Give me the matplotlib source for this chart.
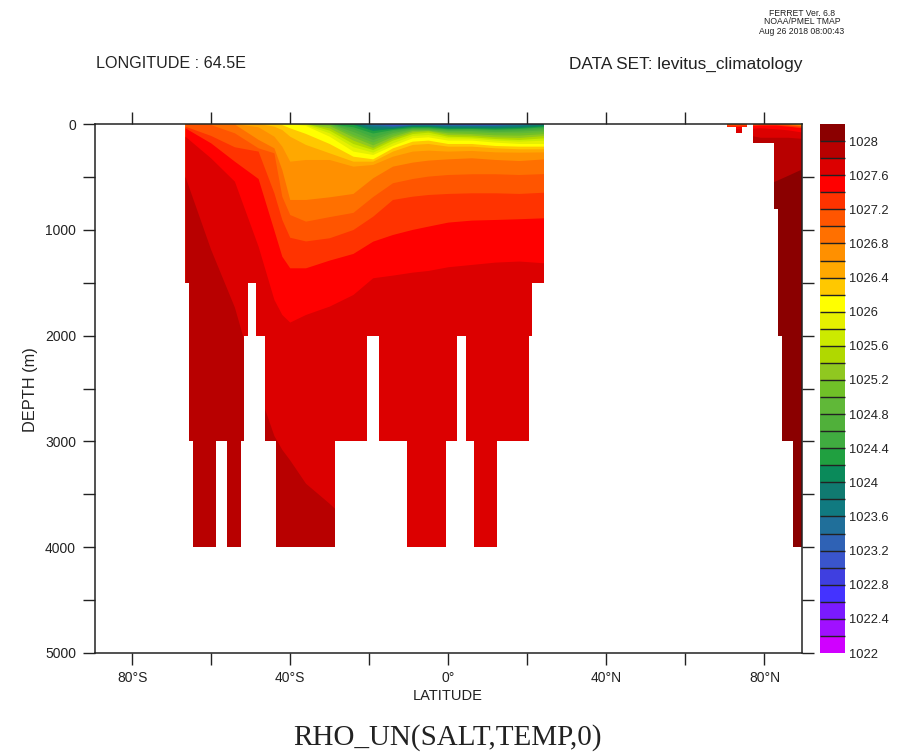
import matplotlib
matplotlib.use("Agg")
import matplotlib.pyplot as plt
from matplotlib.path import Path
from matplotlib.colors import ListedColormap, BoundaryNorm
from matplotlib.cm import ScalarMappable

W, H = 901, 756

# Latitudes of the isopycnal depth readings
lats = [-66.5, -60, -54, -48, -44, -42, -40, -36, -30, -24, -19, -14, -9, -5, 0, 6, 12, 18, 24.5,
        70, 75, 79, 83, 86, 89.5]

# Depth (m) at which density reaches each contour level
d280 = [5000] * 19 + [600, 600, 600, 540, 490, 430]
d278 = [500, 1190, 1735, 2520, 2950, 3080, 3180, 3400, 3590, 3800] + [5000] * 9 + [150, 100, 130, 130, 130, 140]
d276 = [120, 325, 545, 1160, 1663, 1805, 1877, 1805, 1726, 1616, 1458, 1433, 1405, 1389, 1354, 1332, 1310, 1300, 1317, 50, 50, 40, 50, 60, 80]
d274 = [41, 183, 356, 520, 1008, 1254, 1364, 1364, 1291, 1228, 1112, 1049, 1001, 970, 932, 913, 907, 900, 891, 25, 25, 15, 15, 25, 40]
d272 = [25, 113, 220, 261, 655, 907, 1075, 1110, 1080, 1002, 876, 718, 687, 671, 661, 655, 655, 661, 649, 15, 12, 8, 8, 15, 28]
d270 = [0, 10, 88, 230, 277, 687, 860, 923, 880, 840, 690, 560, 520, 497, 482, 475, 475, 482, 473, 8, 6, 3, 3, 10, 20]
d268 = [0, 0, 5, 150, 230, 435, 718, 718, 693, 661, 513, 403, 365, 346, 334, 324, 340, 350, 334, 3, 3, 0, 0, 5, 15]
d266 = [0, 0, 0, 31, 120, 214, 356, 340, 340, 403, 387, 309, 261, 252, 261, 255, 268, 271, 268, 0, 0, 0, 0, 2, 12]
d264 = [0, 0, 0, 0, 25, 57, 120, 198, 277, 356, 356, 261, 198, 189, 214, 214, 230, 239, 239, 0, 0, 0, 0, 0, 9]
d262 = [0, 0, 0, 0, 0, 10, 41, 94, 189, 309, 334, 230, 167, 157, 189, 189, 208, 214, 214, 0, 0, 0, 0, 0, 6]
d260 = [0] * 7 + [19, 120, 261, 293, 208, 135, 126, 157, 157, 176, 189, 189, 0, 0, 0, 0, 0, 3]
d258 = [0] * 7 + [9, 88, 220, 271, 183, 113, 104, 135, 139, 157, 167, 157] + [0] * 6
d256 = [0] * 8 + [63, 189, 246, 157, 95, 82, 120, 126, 142, 151, 135] + [0] * 6
d254 = [0] * 8 + [41, 157, 227, 139, 79, 69, 104, 110, 126, 132, 113] + [0] * 6
d252 = [0] * 8 + [19, 126, 202, 120, 66, 63, 88, 95, 107, 110, 95] + [0] * 6
d250 = [0] * 8 + [6, 104, 176, 101, 57, 57, 76, 79, 88, 88, 76] + [0] * 6
d248 = [0] * 8 + [0, 76, 151, 85, 50, 50, 66, 66, 76, 72, 60] + [0] * 6
d246 = [0] * 8 + [0, 50, 126, 69, 44, 44, 57, 57, 63, 60, 44] + [0] * 6
d244 = [0] * 8 + [0, 31, 90, 57, 38, 38, 50, 47, 54, 47, 31] + [0] * 6
d242 = [0] * 8 + [0, 9, 65, 47, 28, 28, 44, 41, 44, 38, 22] + [0] * 6
d240 = [0] * 8 + [0, 0, 45, 41, 22, 22, 33, 35, 35, 28, 13] + [0] * 6
d238 = [0] * 8 + [0, 0, 30, 35, 16, 16, 25, 28, 28, 22, 0] + [0] * 6
d236 = [0] * 8 + [0, 0, 18, 28, 14, 14, 18, 19, 19, 13, 0] + [0] * 6
d234 = [0] * 8 + [0, 0, 6, 22, 12, 12, 13, 15, 15, 6, 0] + [0] * 6
d232 = [0] * 8 + [0, 0, 0, 16, 9, 9, 9, 11, 11, 0, 0] + [0] * 6
d230 = [0] * 8 + [0, 0, 0, 9, 6, 6, 6, 8, 8, 0, 0] + [0] * 6
d228 = [0] * 8 + [0, 0, 0, 3, 0, 0, 3, 5, 5, 0, 0] + [0] * 6
d226 = [0] * 8 + [0, 0, 0, 0, 0, 0, 0, 3, 3, 0, 0] + [0] * 6
d224 = [0] * 25
d222 = [0] * 25
d220 = [0] * 25

levels = [1022.0, 1022.2, 1022.4, 1022.6, 1022.8, 1023.0, 1023.2, 1023.4, 1023.6, 1023.8,
          1024.0, 1024.2, 1024.4, 1024.6, 1024.8, 1025.0, 1025.2, 1025.4, 1025.6, 1025.8,
          1026.0, 1026.2, 1026.4, 1026.6, 1026.8, 1027.0, 1027.2, 1027.4, 1027.6, 1027.8, 1028.0]
level_depths = [d220, d222, d224, d226, d228, d230, d232, d234, d236, d238,
                d240, d242, d244, d246, d248, d250, d252, d254, d256, d258,
                d260, d262, d264, d266, d268, d270, d272, d274, d276, d278, d280]
band_colors = ['#d000ff', '#a010ff', '#7a1aff', '#4433ff', '#3f3fe0', '#3a55cc', '#2f62b5', '#206f9a', '#107a80', '#107a70',
               '#0a8a5a', '#20a040', '#40ac40', '#50b03a', '#60b838', '#70c028', '#90c820', '#b0d800', '#ccea00', '#e6f000',
               '#ffff00', '#ffc800', '#ffa800', '#ff9000', '#ff7000', '#ff5500', '#ff3300', '#ff0000', '#dc0000', '#b80000', '#8b0000']

# Ocean cells with data: west lat, east lat, top depth, bottom depth
cell_west = [-66.7, -65.6, -48.7, -65.6, -46.5, -17.6, 4.4, -64.7, -55.9, -43.5, -10.4, 6.5,
             70.4, 72.7, 77.0, 82.4, 83.4, 84.5, 87.2]
cell_east = [24.2, -50.8, 21.3, -51.6, -20.6, 2.1, 20.4, -58.9, -52.4, -28.7, -0.7, 12.2,
             75.5, 74.2, 89.5, 89.5, 89.5, 89.5, 89.5]
cell_top = [0, 1500, 1500, 2000, 2000, 2000, 2000, 3000, 3000, 3000, 3000, 3000,
            0, 30, 0, 180, 800, 2000, 3000]
cell_bottom = [1500, 2000, 2000, 3000, 3000, 3000, 3000, 4000, 4000, 4000, 4000, 4000,
               30, 85, 180, 800, 2000, 3000, 4000]

x_ticks = [-80, -60, -40, -20, 0, 20, 40, 60, 80]
x_tick_labels = ['80°S', '', '40°S', '', '0°', '', '40°N', '', '80°N']
y_ticks = [0, 500, 1000, 1500, 2000, 2500, 3000, 3500, 4000, 4500, 5000]
y_tick_labels = ['0', '', '1000', '', '2000', '', '3000', '', '4000', '', '5000']
cbar_ticks = [1022, 1022.4, 1022.8, 1023.2, 1023.6, 1024, 1024.4, 1024.8, 1025.2, 1025.6,
              1026, 1026.4, 1026.8, 1027.2, 1027.6, 1028]
cbar_labels = ['1022', '1022.4', '1022.8', '1023.2', '1023.6', '1024', '1024.4', '1024.8', '1025.2', '1025.6',
               '1026', '1026.4', '1026.8', '1027.2', '1027.6', '1028']

plt.rcParams['font.family'] = ['Liberation Sans', 'DejaVu Sans']
INK = '#222222'


def box(left, top, right, bottom):
    return [left / W, 1 - bottom / H, (right - left) / W, (bottom - top) / H]


fig = plt.figure(figsize=(W / 100, H / 100), dpi=100, facecolor='white')
ax = fig.add_axes(box(95, 124, 802, 653))
ax.set_xlim(-89.4, 89.5)
ax.set_ylim(5000, 0)

rects = [Path([(w, t), (e, t), (e, b), (w, b), (w, t)], closed=True)
         for w, e, t, b in zip(cell_west, cell_east, cell_top, cell_bottom)]
ocean = Path.make_compound_path(*rects)

for depth, color in zip(level_depths, band_colors):
    poly = ax.fill_between(lats, depth, 5000, facecolor=color, edgecolor='none', linewidth=0, zorder=2)
    poly.set_clip_path(ocean, transform=ax.transData)

ax.set_xticks(x_ticks)
ax.set_xticklabels(x_tick_labels, fontsize=10, color=INK)
ax.set_yticks(y_ticks)
ax.set_yticklabels(y_tick_labels, fontsize=10, color=INK)
ax.tick_params(axis='both', which='major', direction='out', length=8.6, width=1.0, color=INK,
               top=True, right=True, labelright=False, labeltop=False, pad=5)
ax.tick_params(axis='x', pad=4.5)
ax.yaxis.get_major_ticks()[0].tick2line.set_visible(False)
for spine in ax.spines.values():
    spine.set_linewidth(1.1)
    spine.set_color(INK)
    spine.set_zorder(5)

fig.text(448 / W, 1 - 696 / H, 'LATITUDE', ha='center', va='center', fontsize=10.5, color=INK)
fig.text(30 / W, 1 - 390 / H, 'DEPTH (m)', ha='center', va='center', rotation=90, fontsize=11.8, color=INK)
fig.text(447 / W, 1 - 738 / H, 'RHO_UN(SALT,TEMP,0)', ha='center', va='center', fontsize=21,
         family=['Liberation Serif', 'DejaVu Serif'], color=INK)
fig.text(96 / W, 1 - 64 / H, 'LONGITUDE : 64.5E', ha='left', va='center', fontsize=11.6, color=INK)
fig.text(802 / W, 1 - 64 / H, 'DATA SET: levitus_climatology', ha='right', va='center', fontsize=12.4, color=INK)
fig.text(802 / W, 1 - 13 / H, 'FERRET Ver. 6.8', ha='center', va='center', fontsize=6.2, color=INK)
fig.text(802 / W, 1 - 22 / H, 'NOAA/PMEL TMAP', ha='center', va='center', fontsize=6.2, color=INK)
fig.text(802 / W, 1 - 31 / H, 'Aug 26 2018 08:00:43', ha='center', va='center', fontsize=6.2, color=INK)

cax = fig.add_axes(box(820, 124, 845, 653))
bounds = levels + [1028.2]
norm = BoundaryNorm(bounds, len(band_colors))
cbar = fig.colorbar(ScalarMappable(norm=norm, cmap=ListedColormap(band_colors)), cax=cax,
                    drawedges=True, spacing='proportional', ticks=cbar_ticks)
cbar.ax.minorticks_off()
cbar.ax.set_yticks(cbar_ticks)
cbar.ax.set_yticklabels(cbar_labels, fontsize=9.3, color=INK)
cbar.ax.tick_params(which='both', length=0, pad=3)
cbar.dividers.set_color(INK)
cbar.dividers.set_linewidth(1.0)
cbar.outline.set_visible(False)

fig.savefig('out.png', dpi=100, facecolor='white')
